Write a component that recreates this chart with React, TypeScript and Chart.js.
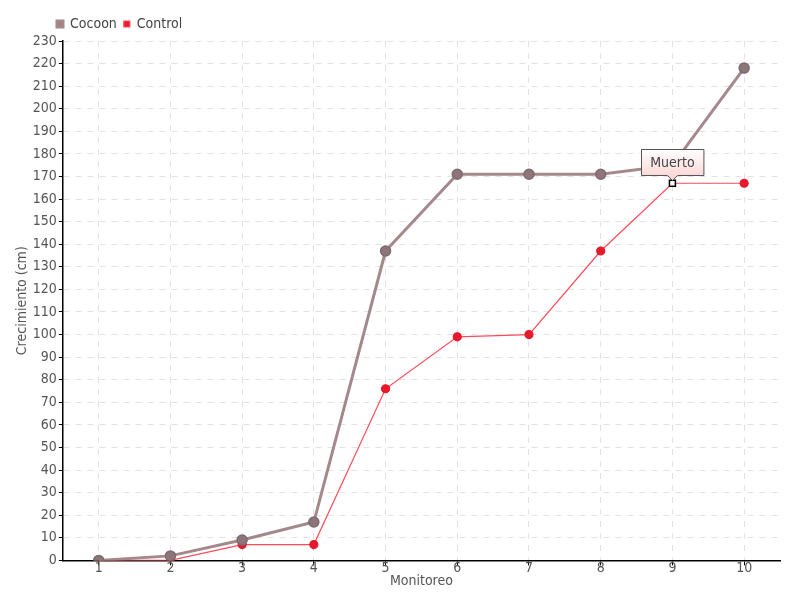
import React, { useEffect, useRef } from "react";
import { Chart, registerables } from "chart.js";

Chart.register(...registerables);

const categories = ["1", "2", "3", "4", "5", "6", "7", "8", "9", "10"];
const cocoon = [0, 2, 9, 17, 137, 171, 171, 171, 175, 218];
const control = [0, 0, 7, 7, 76, 99, 100, 137, 167, 167];
const noteIndex = 8;
const noteText = "Muerto";

const FONT = "'Liberation Sans Narrow', 'DejaVu Sans Condensed', sans-serif";

const legendShift = {
  id: "legendShift",
  afterLayout(chart: any) {
    if (chart.legend) {
      chart.legend.left += 36;
      chart.legend.right += 36;
    }
  },
};

const notePlugin = {
  id: "note",
  afterDatasetsDraw(chart: any) {
    const meta = chart.getDatasetMeta(1);
    const el = meta.data[noteIndex];
    if (!el) return;
    const ctx = chart.ctx;
    const x = el.x;
    const y = el.y;
    ctx.save();
    ctx.fillStyle = "#ffffff";
    ctx.strokeStyle = "#000000";
    ctx.lineWidth = 1.5;
    ctx.fillRect(x - 3, y - 3, 6, 6);
    ctx.strokeRect(x - 3, y - 3, 6, 6);
    ctx.font = "14px " + FONT;
    const w = ctx.measureText(noteText).width + 18;
    const h = 26;
    const bx = Math.round(x - w / 2) + 0.5;
    const by = Math.round(y - 8 - h) + 0.5;
    const g = ctx.createLinearGradient(0, by, 0, by + h);
    g.addColorStop(0, "#ffffff");
    g.addColorStop(1, "#fdd8d8");
    ctx.beginPath();
    ctx.moveTo(bx, by);
    ctx.lineTo(bx + w, by);
    ctx.lineTo(bx + w, by + h);
    ctx.lineTo(x + 5, by + h);
    ctx.lineTo(x, by + h + 5);
    ctx.lineTo(x - 5, by + h);
    ctx.lineTo(bx, by + h);
    ctx.closePath();
    ctx.fillStyle = g;
    ctx.fill();
    ctx.strokeStyle = "#555555";
    ctx.lineWidth = 1;
    ctx.stroke();
    ctx.fillStyle = "#444444";
    ctx.textAlign = "center";
    ctx.textBaseline = "middle";
    ctx.fillText(noteText, x, by + h / 2 + 1);
    ctx.restore();
  },
};

export default function App() {
  const ref = useRef<HTMLCanvasElement>(null);
  useEffect(() => {
    document.body.style.margin = "0";
    const chart = new Chart(ref.current!, {
      type: "line",
      data: {
        labels: categories,
        datasets: [
          {
            label: "Cocoon",
            data: cocoon,
            borderColor: "#a4888c",
            backgroundColor: "#9a7f84",
            pointBackgroundColor: "#8e757a",
            pointBorderColor: "#7d6b6e",
            pointBorderWidth: 1.5,
            pointRadius: 5,
            borderWidth: 3,
            tension: 0,
          },
          {
            label: "Control",
            data: control,
            borderColor: "#ff4a5a",
            backgroundColor: "#e8192c",
            pointBackgroundColor: "#e8192c",
            pointBorderColor: "#e8192c",
            pointRadius: control.map((_, i) => (i === noteIndex ? 0 : 4)),
            borderWidth: 1.2,
            tension: 0,
          },
        ],
      },
      plugins: [legendShift, notePlugin],
      options: {
        animation: false,
        responsive: false,
        layout: { padding: { top: 10, right: 20, left: 14, bottom: 10 } },
        plugins: {
          tooltip: { enabled: false },
          legend: {
            position: "top",
            align: "start",
            labels: {
              boxWidth: 6,
              boxHeight: 6,
              padding: 7,
              color: "#444",
              font: { family: FONT, size: 14 },
            },
          },
        },
        scales: {
          x: {
            offset: true,
            grid: {
              offset: false,
              color: "#e2e2e2",
              tickColor: "#000",
              tickLength: 5,
              tickBorderDash: [],
            } as any,
            border: { color: "#000", width: 1.5, dash: [6, 6] } as any,
            ticks: { color: "#555", font: { family: FONT, size: 14 }, padding: -5 },
            title: {
              display: true,
              text: "Monitoreo",
              color: "#555",
              font: { family: FONT, size: 14 },
              padding: { top: 1, bottom: 0 },
            },
          },
          y: {
            min: 0,
            max: 230,
            grid: {
              color: "#e2e2e2",
              tickColor: "#000",
              tickLength: 4,
              tickBorderDash: [],
            } as any,
            border: { color: "#000", width: 1.5, dash: [6, 6] } as any,
            ticks: {
              stepSize: 10,
              autoSkip: false,
              color: "#555",
              font: { family: FONT, size: 14 },
              padding: 2,
            },
            title: {
              display: true,
              text: "Crecimiento (cm)",
              color: "#555",
              font: { family: FONT, size: 14 },
              padding: 0,
            },
          },
        },
      },
    });
    return () => chart.destroy();
  }, []);
  return <canvas ref={ref} width={800} height={600} style={{ display: "block" }} />;
}
